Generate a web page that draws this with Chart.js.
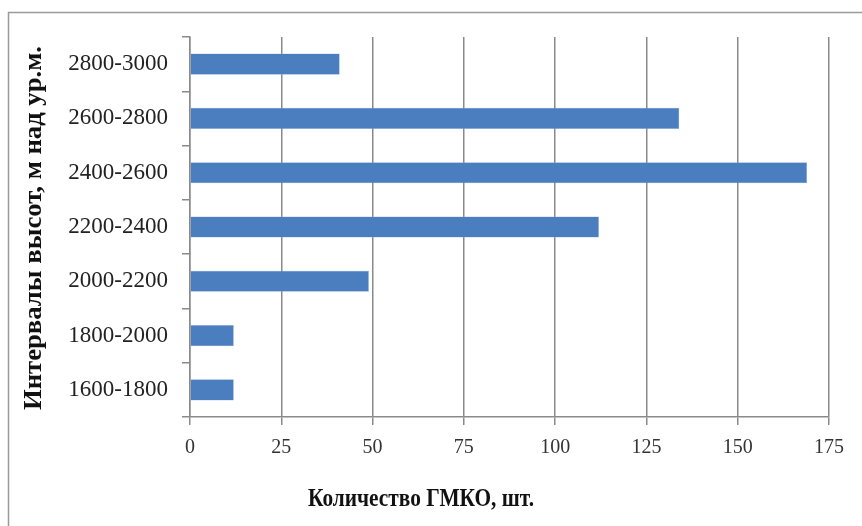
<!DOCTYPE html>
<html>
<head>
<meta charset="utf-8">
<script src="https://cdn.jsdelivr.net/npm/chart.js@4.4.1/dist/chart.umd.min.js"></script>
<style>
  html, body { margin: 0; padding: 0; background: #fff; }
  #wrap { position: relative; width: 862px; height: 526px; }
</style>
</head>
<body>
<div id="wrap"><canvas id="grafica" width="862" height="526"></canvas></div>
<script>
// datos
const intervalos = ['1600-1800', '1800-2000', '2000-2200', '2200-2400', '2400-2600', '2600-2800', '2800-3000'];
const cantidades = [12, 12, 49, 112, 169, 134, 41];
const ticksX = [0, 25, 50, 75, 100, 125, 150, 175];

const tituloX = 'Количество ГМКО, шт.';
const tituloY = 'Интервалы высот, м над ур.м.';

const gris = '#8a8a8a';
const azul = '#4a7ebf';

// marco exterior y titulos de ejes
const marcoYTitulos = {
    id: 'marcoYTitulos',
    beforeDraw(chart) {
        const ctx = chart.ctx;
        ctx.save();
        ctx.fillStyle = '#fff';
        ctx.fillRect(0, 0, chart.width, chart.height);
        ctx.strokeStyle = '#9a9a9a';
        ctx.lineWidth = 1.5;
        ctx.beginPath();
        ctx.moveTo(8.5, chart.height + 2);
        ctx.lineTo(8.5, 12.5);
        ctx.lineTo(chart.width + 2, 12.5);
        ctx.stroke();
        ctx.restore();
    },
    afterDraw(chart) {
        const ctx = chart.ctx;
        const texto = (txt, cx, cy, ancho, rot) => {
            ctx.save();
            ctx.font = 'bold 26px "Liberation Serif", "Times New Roman", serif';
            ctx.fillStyle = '#111';
            ctx.textAlign = 'center';
            ctx.textBaseline = 'middle';
            const w = ctx.measureText(txt).width;
            ctx.translate(cx, cy);
            if (rot) ctx.rotate(-Math.PI / 2);
            ctx.scale(ancho / w, 1);
            ctx.fillText(txt, 0, 0);
            ctx.restore();
        };
        texto(tituloX, 421, 499, 226, false);
        texto(tituloY, 34, 228, 364, true);
    }
};

new Chart(document.getElementById('grafica'), {
    type: 'bar',
    data: {
        labels: intervalos,
        datasets: [{
            data: cantidades,
            backgroundColor: azul,
            borderColor: '#8fb2de',
            borderWidth: 0.5,
            barPercentage: 0.39,
            categoryPercentage: 1
        }]
    },
    options: {
        indexAxis: 'y',
        responsive: false,
        animation: false,
        layout: { padding: { left: 0, top: 37, right: 33, bottom: 0 } },
        plugins: {
            legend: { display: false },
            tooltip: { enabled: false }
        },
        scales: {
            x: {
                min: 0,
                max: 175,
                afterFit: s => { s.height = 109; },
                afterBuildTicks: s => { s.ticks = ticksX.map(v => ({ value: v })); },
                grid: {
                    color: gris,
                    lineWidth: 1.5,
                    tickLength: 8
                },
                border: { color: gris, width: 1.5 },
                ticks: {
                    padding: 11,
                    color: '#333',
                    font: { family: '"Liberation Serif", "Times New Roman", serif', size: 20 }
                }
            },
            y: {
                reverse: true,
                afterFit: s => { s.width = 190; },
                grid: {
                    offset: true,
                    drawOnChartArea: false,
                    color: gris,
                    lineWidth: 1.5,
                    tickLength: 8
                },
                border: { color: gris, width: 1.5 },
                ticks: {
                    padding: 14,
                    color: '#222',
                    font: { family: '"Liberation Serif", "Times New Roman", serif', size: 23 }
                }
            }
        }
    },
    plugins: [marcoYTitulos]
});
</script>
</body>
</html>
